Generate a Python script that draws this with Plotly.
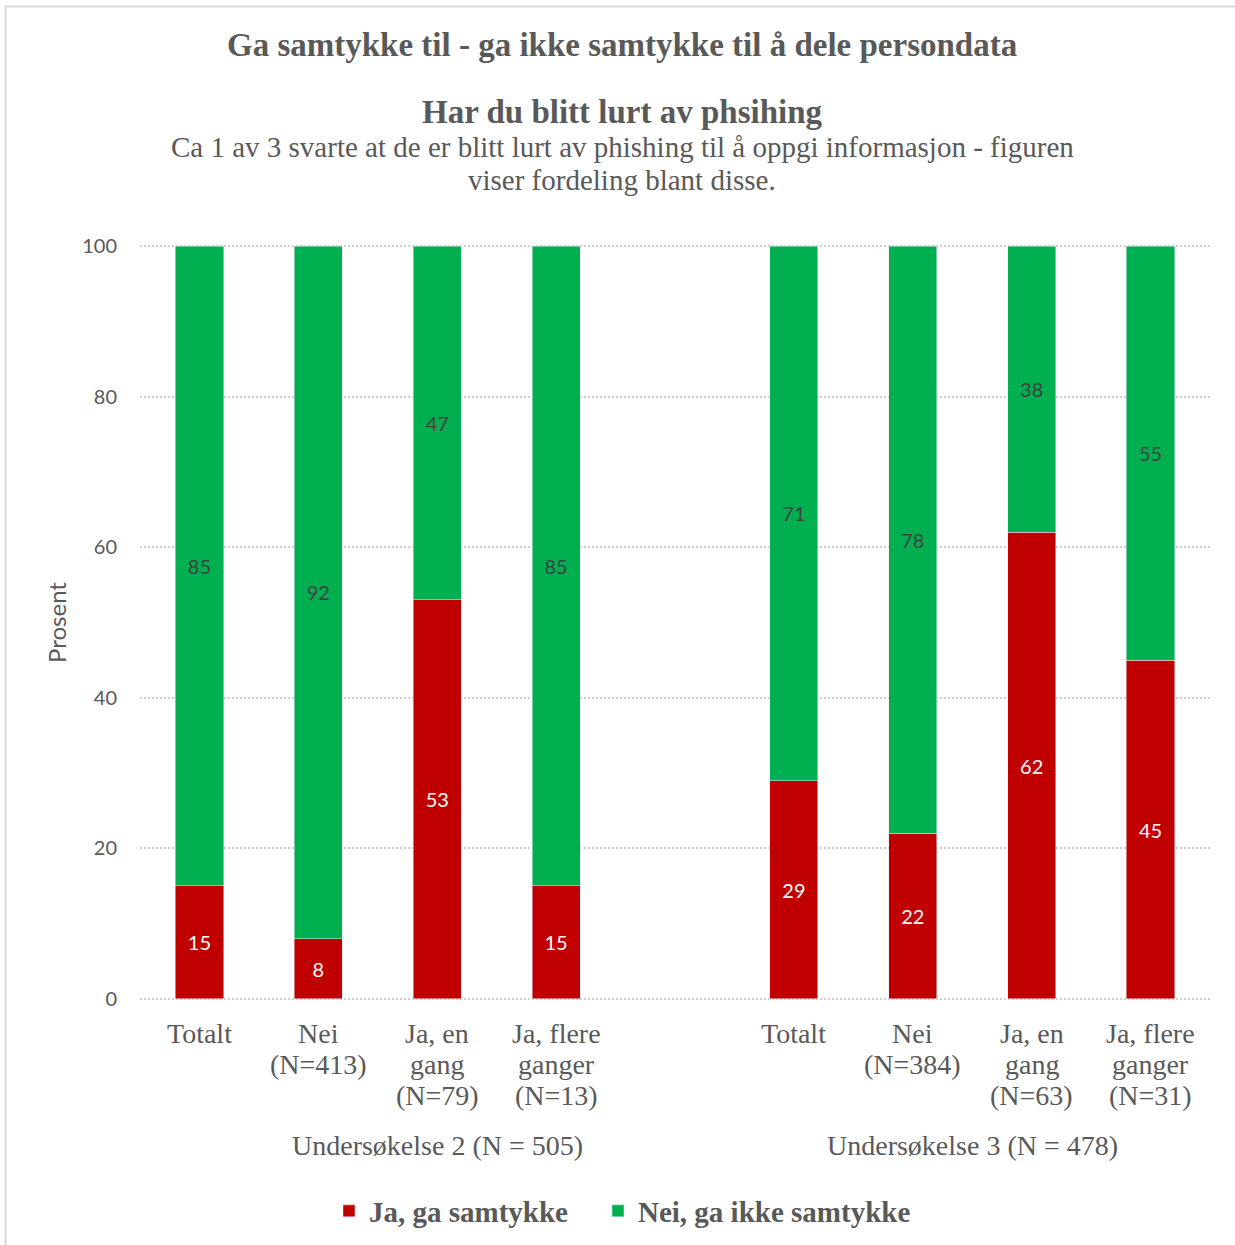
import plotly.graph_objects as go

# ---- data ----
slot_labels = ["Totalt", "Nei<br>(N=413)", "Ja, en<br>gang<br>(N=79)", "Ja, flere<br>ganger<br>(N=13)", "",
               "Totalt", "Nei<br>(N=384)", "Ja, en<br>gang<br>(N=63)", "Ja, flere<br>ganger<br>(N=31)"]
ja_values = [15, 8, 53, 15, None, 29, 22, 62, 45]
nei_values = [85, 92, 47, 85, None, 71, 78, 38, 55]
group_labels = ["Undersøkelse 2 (N = 505)", "Undersøkelse 3 (N = 478)"]
group_centers = [2, 6.5]
series_names = ["Ja, ga samtykke", "Nei, ga ikke samtykke"]
y_ticks = [0, 20, 40, 60, 80, 100]

positions = list(range(len(slot_labels)))

SERIF = "Liberation Serif"
SANS = "Lato"
GRAY = "#595959"
RED = "#C00000"
GREEN = "#00B050"

W, H = 1235, 1245
L, R, T, B = 140, 25, 245, 245
pw, ph = W - L - R, H - T - B


def px_x(p):
    return (p - L) / pw


def px_y(p):
    return (H - B - p) / ph


fig = go.Figure()
fig.add_trace(go.Bar(
    x=positions, y=ja_values, name=series_names[0], marker_color=RED, width=0.405,
    texttemplate="%{y}", textposition="inside", insidetextanchor="middle", textangle=0,
    textfont=dict(family=SANS, size=20, color="white"), legend="legend",
))
fig.add_trace(go.Bar(
    x=positions, y=nei_values, name=series_names[1], marker_color=GREEN, width=0.405,
    texttemplate="%{y}", textposition="inside", insidetextanchor="middle", textangle=0,
    textfont=dict(family=SANS, size=20, color="#404040"), legend="legend2",
))

annotations = [
    dict(text="<b>Ga samtykke til - ga ikke samtykke til å dele persondata</b>", x=px_x(622), y=px_y(45),
         font=dict(family=SERIF, size=33, color=GRAY)),
    dict(text="<b>Har du blitt lurt av phsihing</b>", x=px_x(622), y=px_y(112),
         font=dict(family=SERIF, size=33, color=GRAY)),
    dict(text="Ca 1 av 3 svarte at de er blitt lurt av phishing til å oppgi informasjon - figuren", x=px_x(622), y=px_y(147),
         font=dict(family=SERIF, size=29, color=GRAY)),
    dict(text="viser fordeling blant disse.", x=px_x(622), y=px_y(180),
         font=dict(family=SERIF, size=29, color=GRAY)),
]
# category labels, one annotation per text line
for pos, lab in zip(positions, slot_labels):
    if not lab:
        continue
    for i, line in enumerate(lab.split("<br>")):
        annotations.append(dict(text=line, x=pos, xref="x", y=px_y(1033 + 31 * i),
                                font=dict(family=SERIF, size=28, color=GRAY)))
for gl, gc in zip(group_labels, group_centers):
    annotations.append(dict(text=gl, x=gc, xref="x", y=px_y(1145),
                            font=dict(family=SERIF, size=28, color=GRAY)))
for a in annotations:
    a.setdefault("xref", "paper")
    a["yref"] = "paper"
    a["showarrow"] = False
    a["xanchor"] = "center"
    a["yanchor"] = "middle"

legend_common = dict(orientation="h", xanchor="left", y=px_y(1211), yanchor="middle",
                     font=dict(family=SERIF, size=29, color=GRAY, weight="bold"), itemwidth=30,
                     bgcolor="rgba(0,0,0,0)")

fig.update_layout(
    width=W, height=H,
    margin=dict(l=L, r=R, t=T, b=B, autoexpand=False),
    barmode="stack",
    paper_bgcolor="white", plot_bgcolor="white",
    annotations=annotations,
    showlegend=True,
    legend=dict(x=px_x(329), **legend_common),
    legend2=dict(x=px_x(598), **legend_common),
    xaxis=dict(range=[-0.5, 8.5], tickvals=positions, showticklabels=False, showgrid=False,
               zeroline=False, showline=False, ticks=""),
    yaxis=dict(range=[-0.15, 100.15], tickvals=y_ticks, showgrid=True, gridcolor="#CFCFCF", griddash="2px,2px",
               gridwidth=1.5, zeroline=False, showline=False, ticks="", ticklabelstandoff=22,
               tickfont=dict(family=SANS, size=20, color=GRAY),
               title=dict(text="Prosent", font=dict(family=SANS, size=24, color=GRAY), standoff=8)),
    shapes=[dict(type="rect", xref="paper", yref="paper", x0=px_x(5.5), x1=px_x(1245), y0=px_y(1260), y1=px_y(6.5),
                 line=dict(color="#D9D9D9", width=2), layer="below")],
)

fig.write_html("out.html", config={"displayModeBar": False},
               post_script="document.body.style.margin='0';")
